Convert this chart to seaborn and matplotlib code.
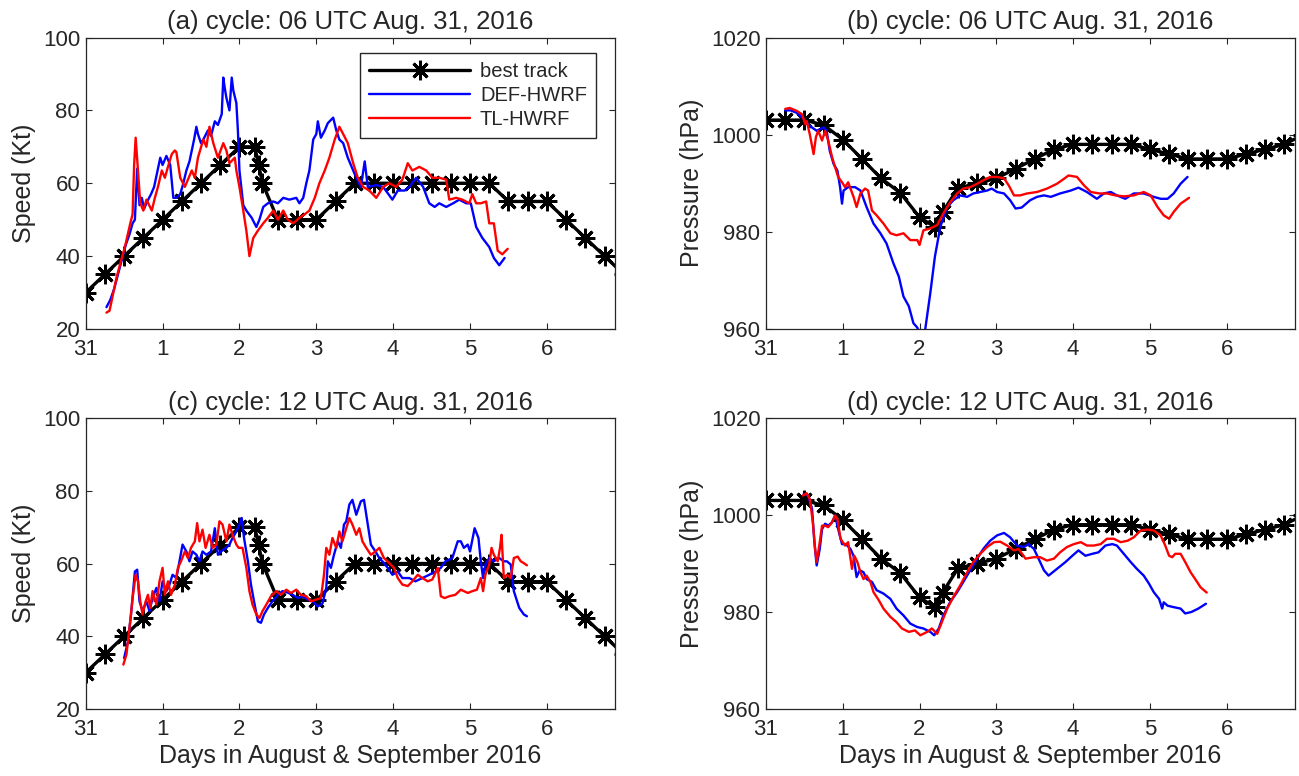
import matplotlib
matplotlib.use("Agg")
import matplotlib.pyplot as plt
import seaborn as sns
import pandas as pd

# ---------------- best track (shared by both cycles) ----------------
spd_t = [0, .25, .5, .75, 1, 1.25, 1.5, 1.75, 2.0, 2.2, 2.25, 2.3, 2.5, 2.75, 3.0, 3.25,
         3.5, 3.75, 4.0, 4.25, 4.5, 4.75, 5.0, 5.25, 5.5, 5.75, 6.0, 6.25, 6.5, 6.75, 7.0]
spd_v = [30, 35, 40, 45, 50, 55, 60, 65, 70, 70, 65, 60, 50, 50, 50, 55,
         60, 60, 60, 60, 60, 60, 60, 60, 55, 55, 55, 50, 45, 40, 35]
prs_t = [0, .25, .5, .75, 1, 1.25, 1.5, 1.75, 2.0, 2.2, 2.3, 2.5, 2.75, 3.0, 3.25,
         3.5, 3.75, 4.0, 4.25, 4.5, 4.75, 5.0, 5.25, 5.5, 5.75, 6.0, 6.25, 6.5, 6.75, 7.0]
prs_v = [1003, 1003, 1003, 1002, 999, 995, 991, 988, 983, 981, 984, 989, 990, 991, 993,
         995, 997, 998, 998, 998, 998, 997, 996, 995, 995, 995, 996, 997, 998, 1000]

# ---------------- (a) speed, cycle 06 UTC ----------------
a_def_t = [0.27, 0.32, 0.37, 0.42, 0.47, 0.52, 0.57, 0.61, 0.64, 0.67,
           0.70, 0.73, 0.76, 0.80, 0.85, 0.89, 0.93, 0.97, 1.00, 1.05,
           1.10, 1.14, 1.18, 1.23, 1.27, 1.31, 1.35, 1.38, 1.41, 1.44,
           1.46, 1.50, 1.53, 1.59, 1.63, 1.68, 1.72, 1.77, 1.79, 1.81,
           1.83, 1.87, 1.90, 1.92, 1.96, 1.98, 2.00, 2.05, 2.09, 2.16,
           2.22, 2.26, 2.31, 2.37, 2.44, 2.50, 2.57, 2.65, 2.74, 2.78,
           2.83, 2.87, 2.91, 2.96, 3.00, 3.02, 3.06, 3.11, 3.15, 3.22,
           3.26, 3.30, 3.35, 3.41, 3.48, 3.52, 3.58, 3.63, 3.67, 3.78,
           3.87, 3.99, 4.06, 4.15, 4.21, 4.30, 4.39, 4.47, 4.54, 4.60,
           4.69, 4.78, 4.86, 4.95, 5.01, 5.08, 5.16, 5.25, 5.31, 5.38,
           5.45]
a_def_v = [26, 28, 31, 35, 39, 43, 46, 49, 50, 64,
           54, 56, 53, 55, 57, 59, 63, 67, 65, 67.5,
           65, 56, 56, 57, 60, 63.5, 66, 69, 72, 75.5,
           73.5, 71, 72, 74.5, 73, 77, 76, 79, 89, 86,
           83.5, 80, 89, 85.5, 82, 74.5, 63.5, 54, 52.5, 50.5,
           48, 50, 53.5, 54.5, 55, 54.5, 56, 55.5, 56, 54.5,
           56, 60, 63.5, 72, 73.5, 77, 72.5, 74.5, 76.5, 78,
           74.5, 72, 71, 67, 63.5, 61.5, 59, 66, 59, 59.5,
           59, 55.5, 58, 58, 59, 61.5, 59, 54.5, 53.5, 54.5,
           53.5, 54.5, 55.5, 54.5, 54.5, 48, 45, 42.5, 39.5, 37.5,
           39.5]
a_tl_t = [0.27, 0.31, 0.35, 0.40, 0.45, 0.51, 0.58, 0.61, 0.63, 0.65,
          0.675, 0.71, 0.75, 0.79, 0.86, 0.90, 0.94, 0.99, 1.03, 1.07,
          1.12, 1.16, 1.18, 1.23, 1.29, 1.33, 1.38, 1.42, 1.46, 1.53,
          1.57, 1.61, 1.66, 1.72, 1.79, 1.83, 1.87, 1.94, 1.96, 2.00,
          2.05, 2.09, 2.13, 2.18, 2.24, 2.31, 2.37, 2.44, 2.50, 2.57,
          2.63, 2.70, 2.78, 2.85, 2.91, 2.98, 3.04, 3.11, 3.17, 3.24,
          3.30, 3.35, 3.41, 3.48, 3.54, 3.61, 3.69, 3.78, 3.87, 3.95,
          4.04, 4.12, 4.19, 4.25, 4.34, 4.43, 4.51, 4.60, 4.69, 4.73,
          4.82, 4.90, 4.99, 5.03, 5.08, 5.14, 5.21, 5.25, 5.31, 5.36,
          5.42, 5.49]
a_tl_v = [24.5, 25, 29, 34, 38, 42.5, 49, 51.5, 65, 72.5,
          65, 54.5, 52.5, 55.5, 52.5, 56, 59, 63.5, 61.5, 64.5,
          68, 69, 68.5, 61.5, 59, 61, 63.5, 61.5, 67, 72,
          70, 75.5, 71, 67, 71, 69, 65.5, 67, 63.5, 59,
          52.5, 47, 40, 45, 47, 49, 50.5, 52.5, 50, 52.5,
          50, 49, 50.5, 51.5, 52.5, 56, 60, 63.5, 67, 72,
          75.5, 73.5, 71, 65.5, 61.5, 59, 58, 56, 59, 60,
          59, 61, 65.5, 63.5, 64.5, 63.5, 61.5, 61.5, 61, 55.5,
          56, 55.5, 54.5, 57, 54.5, 54.5, 55, 49, 49, 41.5,
          40.5, 42]

# ---------------- (b) pressure, cycle 06 UTC ----------------
b_def_t = [0.25, 0.32, 0.40, 0.49, 0.57, 0.66, 0.75, 0.79, 0.83, 0.88,
           0.93, 0.965, 0.99, 1.01, 1.07, 1.16, 1.23, 1.31, 1.40, 1.49,
           1.57, 1.66, 1.73, 1.79, 1.86, 1.92, 1.97, 2.02, 2.07, 2.14,
           2.20, 2.27, 2.36, 2.44, 2.53, 2.62, 2.70, 2.79, 2.88, 2.94,
           3.01, 3.10, 3.18, 3.25, 3.33, 3.44, 3.53, 3.62, 3.71, 3.83,
           3.97, 4.07, 4.18, 4.31, 4.40, 4.49, 4.57, 4.68, 4.79, 4.92,
           5.05, 5.14, 5.23, 5.31, 5.40, 5.49]
b_def_v = [1005, 1005, 1004.5, 1003.2, 1001.8, 1000.8, 1001.5, 1000.8, 996.7, 994,
           992.6, 989.2, 985.8, 988.5, 989.2, 989.2, 988.5, 985.1, 981.7, 979.7,
           977.6, 973.5, 970.8, 966.7, 964.7, 961.2, 960.3, 958.5, 959.5, 967.4,
           974.9, 981, 985.1, 986.5, 987.5, 987.2, 987.9, 988.2, 988.5, 988.9,
           988.2, 987.9, 986.5, 984.8, 985, 986.5, 987.2, 987.5, 987.2, 987.9,
           988.5, 989.1, 988.2, 986.8, 987.9, 988.2, 987.5, 986.8, 987.9, 987.9,
           987.2, 986.8, 986.8, 987.9, 989.9, 991.3]
b_tl_t = [0.25, 0.31, 0.40, 0.47, 0.51, 0.53, 0.57, 0.62, 0.65, 0.68,
          0.73, 0.77, 0.81, 0.86, 0.90, 0.94, 0.99, 1.03, 1.07, 1.14,
          1.18, 1.23, 1.29, 1.33, 1.38, 1.44, 1.53, 1.62, 1.70, 1.79,
          1.88, 1.97, 2.00, 2.05, 2.14, 2.23, 2.31, 2.40, 2.49, 2.57,
          2.66, 2.75, 2.83, 2.92, 3.01, 3.10, 3.16, 3.23, 3.31, 3.40,
          3.53, 3.66, 3.79, 3.88, 3.94, 4.05, 4.14, 4.23, 4.34, 4.44,
          4.55, 4.66, 4.79, 4.92, 5.01, 5.10, 5.18, 5.25, 5.31, 5.40,
          5.51]
b_tl_v = [1005.3, 1005.5, 1004.9, 1004.2, 1002.2, 1002.8, 1000.1, 996, 999.5, 1000.8,
          998.8, 1000.8, 998.8, 995.4, 993.3, 991.3, 990.2, 989.2, 990.2, 987.2,
          985.1, 987.9, 988.9, 988.5, 984.4, 983.4, 981.7, 979.7, 979.3, 979.7,
          978.3, 978.3, 977.3, 980.3, 980.7, 981.4, 983.8, 986.1, 987.9, 988.9,
          989.2, 989.9, 990.6, 991.3, 991.3, 991.0, 989.6, 987.5, 987.5, 987.9,
          988.2, 988.9, 989.9, 990.9, 991.6, 991.3, 989.6, 988.2, 987.9, 987.9,
          987.5, 987.3, 987.5, 988.2, 987.5, 985.1, 983.4, 982.7, 984.1, 985.8,
          987]

# ---------------- (c) speed, cycle 12 UTC ----------------
c_def_t = [0.50, 0.55, 0.59, 0.64, 0.67, 0.70, 0.74, 0.79, 0.83, 0.87,
           0.92, 0.96, 1.00, 1.05, 1.09, 1.13, 1.18, 1.22, 1.26, 1.31,
           1.35, 1.39, 1.44, 1.48, 1.52, 1.57, 1.63, 1.68, 1.72, 1.76,
           1.83, 1.87, 1.91, 1.96, 2.00, 2.03, 2.06, 2.11, 2.15, 2.19,
           2.24, 2.28, 2.32, 2.37, 2.43, 2.50, 2.56, 2.63, 2.69, 2.76,
           2.82, 2.89, 2.95, 3.02, 3.08, 3.13, 3.15, 3.19, 3.23, 3.28,
           3.32, 3.36, 3.39, 3.43, 3.47, 3.52, 3.58, 3.62, 3.67, 3.71,
           3.77, 3.82, 3.86, 3.93, 3.99, 4.06, 4.12, 4.21, 4.29, 4.38,
           4.47, 4.55, 4.62, 4.68, 4.77, 4.84, 4.88, 4.92, 4.97, 5.00,
           5.06, 5.11, 5.14, 5.17, 5.20, 5.25, 5.31, 5.38, 5.44, 5.48,
           5.53, 5.57, 5.64, 5.70, 5.74]
c_def_v = [34, 38.6, 46, 57.8, 58.3, 49.6, 46.9, 49.6, 46.9, 50.5,
           53.3, 49.6, 55.1, 52.4, 54.2, 56.9, 56, 60.6, 65.2, 63.3,
           60.6, 63.3, 62.4, 60.6, 63.3, 62.4, 63.3, 69.7, 62.4, 63.3,
           64.3, 65.2, 67, 68.8, 70.7, 72.5, 67, 60.6, 54.2, 49.6,
           44.1, 43.7, 46, 47.8, 49.6, 51.4, 52.4, 52, 51.4, 50.5,
           51, 50.1, 49.6, 48.2, 49, 53.3, 60.6, 58.8, 62.4, 66.1,
           64.3, 70.7, 71.6, 76.2, 77.5, 73.4, 77.1, 77.5, 70.7, 65.2,
           63.3, 61.5, 60.6, 58.8, 56.9, 57.8, 56, 56, 55.1, 56,
           56.9, 57.8, 58.8, 60.6, 61.5, 66.1, 66.1, 64.3, 65.2, 63.3,
           69.7, 67, 60.6, 56, 59.7, 61.5, 60.6, 61.5, 60.6, 60.6,
           59.7, 52.4, 47.8, 46, 45.5]
c_tl_t = [0.49, 0.53, 0.57, 0.61, 0.65, 0.68, 0.71, 0.74, 0.78, 0.81,
          0.84, 0.87, 0.92, 0.96, 1.00, 1.03, 1.07, 1.11, 1.16, 1.20,
          1.24, 1.29, 1.33, 1.37, 1.42, 1.45, 1.48, 1.52, 1.56, 1.61,
          1.65, 1.70, 1.74, 1.78, 1.83, 1.87, 1.91, 1.96, 1.99, 2.04,
          2.09, 2.13, 2.17, 2.22, 2.26, 2.30, 2.35, 2.41, 2.48, 2.54,
          2.61, 2.67, 2.74, 2.80, 2.87, 2.93, 3.00, 3.06, 3.10, 3.13,
          3.17, 3.21, 3.26, 3.30, 3.34, 3.39, 3.43, 3.47, 3.52, 3.56,
          3.60, 3.65, 3.71, 3.77, 3.82, 3.88, 3.95, 4.01, 4.06, 4.12,
          4.19, 4.25, 4.32, 4.38, 4.45, 4.51, 4.58, 4.62, 4.67, 4.73,
          4.81, 4.88, 4.97, 5.03, 5.09, 5.14, 5.17, 5.20, 5.25, 5.28,
          5.31, 5.36, 5.39, 5.41, 5.44, 5.48, 5.53, 5.57, 5.62, 5.66,
          5.70, 5.74]
c_tl_v = [32.2, 35, 42.3, 50.5, 56.9, 55.1, 49.6, 46, 49.6, 51.4,
          47.8, 52.4, 48.7, 55.1, 58.8, 51.4, 55.1, 51.4, 54.2, 58.8,
          60.6, 63.3, 61.5, 64.3, 66.1, 71.1, 66.1, 69.3, 64.3, 67.9,
          64.3, 65.2, 71.6, 70.7, 66.1, 70.7, 67.9, 65.2, 64.3, 64.3,
          58.8, 52.4, 48.7, 46, 45, 46.9, 48.7, 51, 52.4, 51.4,
          52.8, 51.9, 52.8, 51.4, 51, 49.6, 50.1, 50.5, 56.9, 64.3,
          62.4, 67, 64.3, 68.8, 66.1, 69.7, 72.5, 70.7, 67.9, 69.7,
          66.1, 64.3, 62.4, 63.3, 64.3, 61.5, 60.1, 58.8, 56, 54.2,
          53.8, 55.1, 56.9, 56, 55.1, 55.6, 58.8, 51, 50.5, 51,
          51.4, 52.8, 51.9, 52.4, 52.8, 56, 52.4, 56.9, 59.7, 64.3,
          62.4, 60.6, 64.3, 67.9, 56, 56.9, 56, 61.5, 61.9, 60.6,
          60.1, 59.5]

# ---------------- (d) pressure, cycle 12 UTC ----------------
d_def_t = [0.49, 0.55, 0.60, 0.63, 0.66, 0.70, 0.73, 0.77, 0.81, 0.86,
           0.90, 0.94, 0.99, 1.04, 1.10, 1.14, 1.18, 1.22, 1.27, 1.31,
           1.38, 1.44, 1.53, 1.62, 1.70, 1.79, 1.88, 1.97, 2.05, 2.14,
           2.19, 2.25, 2.31, 2.40, 2.49, 2.57, 2.66, 2.75, 2.83, 2.92,
           3.01, 3.10, 3.18, 3.27, 3.36, 3.42, 3.49, 3.55, 3.62, 3.68,
           3.79, 3.90, 3.99, 4.07, 4.16, 4.25, 4.33, 4.42, 4.51, 4.57,
           4.66, 4.75, 4.83, 4.92, 4.99, 5.05, 5.12, 5.16, 5.18, 5.23,
           5.31, 5.40, 5.46, 5.54, 5.63, 5.73]
d_def_v = [1004.3, 1004, 1001.2, 994.4, 989.6, 993, 997.1, 998.2, 997.8, 998.5,
           999.9, 997.1, 994, 994, 993, 991.6, 987.2, 988.6, 988.2, 986.8,
           986.2, 984.5, 983.8, 982.7, 980.7, 979.3, 977.6, 976.9, 976.6, 975.9,
           975.2, 976.6, 979.3, 982.1, 984.1, 986.2, 988.6, 991, 993, 994.7,
           995.8, 996.3, 995.4, 993.7, 993.4, 994, 993, 991, 988.6, 987.5,
           988.9, 990.3, 991.6, 992.7, 991.6, 992, 992.3, 993.7, 994, 993.7,
           992, 990.3, 988.9, 987.5, 985.8, 984.1, 982.7, 980.7, 982, 981.3,
           981, 980.7, 979.7, 980, 980.7, 981.7]
d_tl_t = [0.48, 0.53, 0.57, 0.61, 0.64, 0.66, 0.70, 0.73, 0.77, 0.81,
          0.86, 0.90, 0.93, 0.97, 1.03, 1.07, 1.12, 1.15, 1.19, 1.23,
          1.27, 1.31, 1.36, 1.40, 1.47, 1.53, 1.62, 1.70, 1.77, 1.86,
          1.94, 2.01, 2.10, 2.16, 2.23, 2.29, 2.36, 2.44, 2.53, 2.62,
          2.70, 2.79, 2.88, 2.97, 3.05, 3.14, 3.23, 3.29, 3.38, 3.49,
          3.57, 3.66, 3.75, 3.83, 3.92, 4.01, 4.10, 4.18, 4.27, 4.36,
          4.44, 4.53, 4.62, 4.71, 4.79, 4.88, 4.97, 5.05, 5.14, 5.20,
          5.25, 5.29, 5.33, 5.40, 5.46, 5.53, 5.59, 5.66, 5.74]
d_tl_v = [1004, 1004.5, 1003.3, 998.5, 993, 990.3, 994.4, 997.8, 997.8, 997.5,
          998.5, 999.9, 999.2, 995.1, 993.7, 994.4, 988.9, 991.6, 990.3, 988.2,
          986.8, 987.5, 986.2, 984.1, 982.4, 980.7, 979, 977.9, 976.6, 975.9,
          976.2, 975.2, 975.9, 976.6, 975.5, 977.9, 980.7, 983.1, 985.5, 988.2,
          990.3, 992, 993.4, 994.4, 994.5, 993.7, 992.7, 993, 991, 991.3,
          991.3, 990.6, 991, 992.3, 993.4, 994, 994.4, 993.7, 993.7, 994,
          995.1, 995.1, 994.4, 994.7, 995.4, 996.8, 997, 996.8, 995.8, 993.7,
          991.6, 991.3, 992, 992, 990.3, 988.2, 986.8, 985.1, 984]

x_ticks = [0, 1, 2, 3, 4, 5, 6]
x_ticklabels = ["31", "1", "2", "3", "4", "5", "6"]
spd_ticks = [20, 40, 60, 80, 100]
prs_ticks = [960, 980, 1000, 1020]
series_names = ["best track", "DEF-HWRF", "TL-HWRF"]

# ---------------- style ----------------
sns.set_theme(style="ticks")
plt.rcParams['font.family'] = ['Liberation Sans', 'DejaVu Sans']
TXT = '#262626'
plt.rcParams.update({
    'text.color': TXT, 'axes.labelcolor': TXT, 'xtick.color': TXT,
    'ytick.color': TXT, 'axes.edgecolor': TXT,
})

fig = plt.figure(figsize=(12.99, 7.76), dpi=100)
W, H = 1299.0, 776.0


def make_ax(x0, x1, ytop, ybot):
    return fig.add_axes([x0 / W, 1 - ybot / H, (x1 - x0) / W, (ybot - ytop) / H])


axA = make_ax(85.7, 615.3, 37.5, 329.0)
axB = make_ax(766.0, 1295.0, 37.5, 329.0)
axC = make_ax(85.7, 615.3, 418.0, 709.0)
axD = make_ax(766.0, 1295.0, 418.0, 709.0)


def draw(ax, bt_t, bt_v, def_t, def_v, tl_t, tl_v, ylim, yticks, ylabel, title,
         xlabel=None, legend=False):
    bt = pd.DataFrame({"day": bt_t, "val": bt_v})
    df = pd.DataFrame({"day": def_t, "val": def_v})
    tl = pd.DataFrame({"day": tl_t, "val": tl_v})
    sns.lineplot(data=bt, x="day", y="val", ax=ax, color="black", linewidth=2.4,
                 marker=(8, 2, 0), markersize=14, markeredgewidth=2.1,
                 markeredgecolor="black", estimator=None, sort=False,
                 label=series_names[0] if legend else None, zorder=2)
    sns.lineplot(data=df, x="day", y="val", ax=ax, color=(0, 0, 1), linewidth=1.7,
                 estimator=None, sort=False,
                 label=series_names[1] if legend else None, zorder=3)
    sns.lineplot(data=tl, x="day", y="val", ax=ax, color=(1, 0, 0), linewidth=1.7,
                 estimator=None, sort=False,
                 label=series_names[2] if legend else None, zorder=4)
    ax.set_xlim(0, 6.89)
    ax.set_ylim(*ylim)
    ax.set_xticks(x_ticks)
    ax.set_xticklabels(x_ticklabels)
    ax.set_yticks(yticks)
    ax.set_yticklabels([str(v) for v in yticks])
    ax.tick_params(direction="in", top=True, right=True, length=4.5, width=0.8,
                   labelsize=16, colors=TXT)
    ax.tick_params(axis="x", pad=7)
    ax.tick_params(axis="y", pad=4)
    for s in ax.spines.values():
        s.set_color(TXT)
        s.set_linewidth(0.9)
    ax.set_ylabel(ylabel, fontsize=18, labelpad=5)
    ax.set_xlabel(xlabel if xlabel else "", fontsize=18, labelpad=3)
    ax.set_title(title, fontsize=18.5, pad=6, color=TXT)
    if legend:
        leg = ax.legend(loc="upper right", bbox_to_anchor=(0.9636, 0.9458),
                        borderaxespad=0, fontsize=14.5, handlelength=5.0,
                        handletextpad=0.5, labelspacing=0.25, borderpad=0.45,
                        frameon=True, fancybox=False, edgecolor=TXT, framealpha=1)
        leg.get_frame().set_linewidth(1.0)
    else:
        lg = ax.get_legend()
        if lg is not None:
            lg.remove()


draw(axA, spd_t, spd_v, a_def_t, a_def_v, a_tl_t, a_tl_v, (20, 100), spd_ticks,
     "Speed (Kt)", "(a) cycle: 06 UTC Aug. 31, 2016", legend=True)
draw(axB, prs_t, prs_v, b_def_t, b_def_v, b_tl_t, b_tl_v, (960, 1020), prs_ticks,
     "Pressure (hPa)", "(b) cycle: 06 UTC Aug. 31, 2016")
draw(axC, spd_t, spd_v, c_def_t, c_def_v, c_tl_t, c_tl_v, (20, 100), spd_ticks,
     "Speed (Kt)", "(c) cycle: 12 UTC Aug. 31, 2016",
     xlabel="Days in August & September 2016")
draw(axD, prs_t, prs_v, d_def_t, d_def_v, d_tl_t, d_tl_v, (960, 1020), prs_ticks,
     "Pressure (hPa)", "(d) cycle: 12 UTC Aug. 31, 2016",
     xlabel="Days in August & September 2016")

fig.savefig("out.png", dpi=100)
